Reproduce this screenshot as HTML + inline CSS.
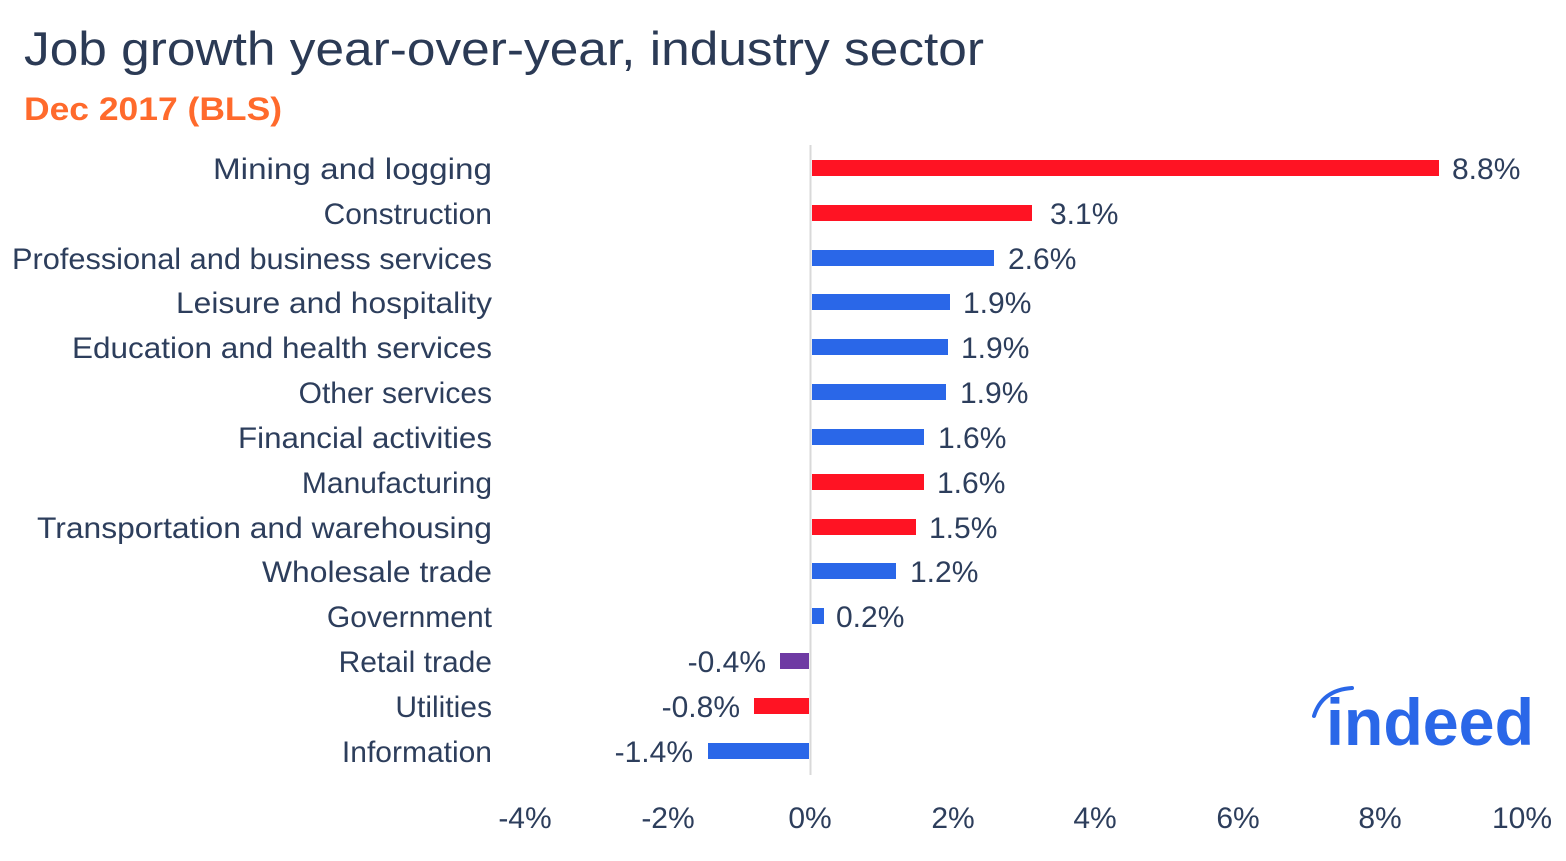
<!DOCTYPE html>
<html><head><meta charset="utf-8"><style>
html,body{margin:0;padding:0;background:#fff;}
svg text{font-family:"Liberation Sans",sans-serif;}
</style></head><body>
<svg width="1566" height="856" xmlns="http://www.w3.org/2000/svg">
<text x="24" y="65" font-size="47" fill="#2b3a55" textLength="960" lengthAdjust="spacingAndGlyphs">Job growth year-over-year, industry sector</text>
<text x="24" y="120" font-size="32" font-weight="bold" fill="#ff6a2c" textLength="258" lengthAdjust="spacingAndGlyphs">Dec 2017 (BLS)</text>
<line x1="810.5" y1="145" x2="810.5" y2="775" stroke="#d9d9d9" stroke-width="2"/>
<g font-size="30" fill="#2d3e5c">
<g text-anchor="end">
<text x="492" y="179" textLength="279" lengthAdjust="spacingAndGlyphs">Mining and logging</text>
<text x="492" y="224">Construction</text>
<text x="492" y="269" textLength="480" lengthAdjust="spacingAndGlyphs">Professional and business services</text>
<text x="492" y="313" textLength="316" lengthAdjust="spacingAndGlyphs">Leisure and hospitality</text>
<text x="492" y="358" textLength="420" lengthAdjust="spacingAndGlyphs">Education and health services</text>
<text x="492" y="403">Other services</text>
<text x="492" y="448" textLength="254" lengthAdjust="spacingAndGlyphs">Financial activities</text>
<text x="492" y="493">Manufacturing</text>
<text x="492" y="538" textLength="455" lengthAdjust="spacingAndGlyphs">Transportation and warehousing</text>
<text x="492" y="582" textLength="230" lengthAdjust="spacingAndGlyphs">Wholesale trade</text>
<text x="492" y="627">Government</text>
<text x="492" y="672">Retail trade</text>
<text x="492" y="717">Utilities</text>
<text x="492" y="762">Information</text>
</g>
<rect x="812" y="160" width="627" height="16" fill="#ff1323"/><text x="1452" y="179">8.8%</text>
<rect x="812" y="205" width="220" height="16" fill="#ff1323"/><text x="1050" y="224">3.1%</text>
<rect x="812" y="250" width="182" height="16" fill="#2a67e8"/><text x="1008" y="269">2.6%</text>
<rect x="812" y="294" width="138" height="16" fill="#2a67e8"/><text x="963" y="313">1.9%</text>
<rect x="812" y="339" width="136" height="16" fill="#2a67e8"/><text x="961" y="358">1.9%</text>
<rect x="812" y="384" width="134" height="16" fill="#2a67e8"/><text x="960" y="403">1.9%</text>
<rect x="812" y="429" width="112" height="16" fill="#2a67e8"/><text x="938" y="448">1.6%</text>
<rect x="812" y="474" width="112" height="16" fill="#ff1323"/><text x="937" y="493">1.6%</text>
<rect x="812" y="519" width="104" height="16" fill="#ff1323"/><text x="929" y="538">1.5%</text>
<rect x="812" y="563" width="84" height="16" fill="#2a67e8"/><text x="910" y="582">1.2%</text>
<rect x="812" y="608" width="12" height="16" fill="#2a67e8"/><text x="836" y="627">0.2%</text>
<rect x="780" y="653" width="29" height="16" fill="#6e3aa3"/><text x="766" y="672" text-anchor="end">-0.4%</text>
<rect x="754" y="698" width="55" height="16" fill="#ff1323"/><text x="740" y="717" text-anchor="end">-0.8%</text>
<rect x="708" y="743" width="101" height="16" fill="#2a67e8"/><text x="693" y="762" text-anchor="end">-1.4%</text>
<g text-anchor="middle">
<text x="525" y="828">-4%</text>
<text x="668" y="828">-2%</text>
<text x="810" y="828">0%</text>
<text x="953" y="828">2%</text>
<text x="1095" y="828">4%</text>
<text x="1238" y="828">6%</text>
<text x="1380" y="828">8%</text>
<text x="1522" y="828">10%</text>
</g>
</g>
<path d="M1314,716 Q1322,690 1352,688" stroke="#2a67e8" stroke-width="4" fill="none" stroke-linecap="round"/>
<text x="1326" y="745" font-size="66" font-weight="bold" fill="#2a67e8" textLength="208" lengthAdjust="spacingAndGlyphs">indeed</text>
</svg>
</body></html>
